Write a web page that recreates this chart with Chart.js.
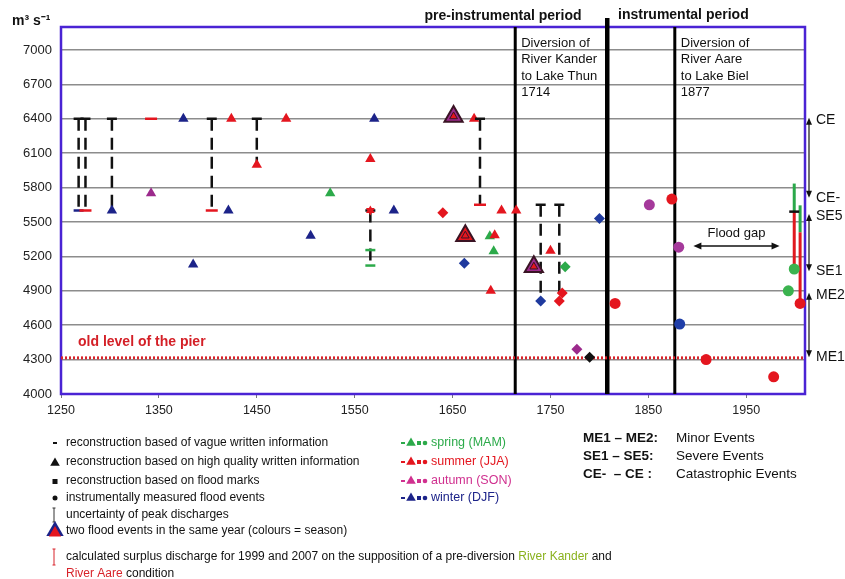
<!DOCTYPE html>
<html>
<head>
<meta charset="utf-8">
<title>Flood discharges of the River Aare</title>
<script src="https://cdn.jsdelivr.net/npm/chart.js@4.4.0/dist/chart.umd.min.js"></script>
<style>
    html, body { margin: 0; padding: 0; background: #fff; }
    #wrap { width: 845px; height: 579px; }
</style>
</head>
<body>
<div id="wrap"><canvas id="floodChart" width="845" height="579"></canvas></div>
<script>
// Axis ticks
const xTicks = [1250, 1350, 1450, 1550, 1650, 1750, 1850, 1950];
const yTicks = [4000, 4300, 4600, 4900, 5200, 5500, 5800, 6100, 6400, 6700, 7000];

// Dashes - reconstruction based on vague written information
const vagueBlackYears  = [1268, 1275, 1302, 1404, 1450, 1566, 1678, 1740, 1759, 1999];
const vagueBlackValues = [6400, 6400, 6400, 6400, 6400, 5600, 6400, 5650, 5650, 5590];
const vagueRedYears    = [1275, 1342, 1404, 1678];
const vagueRedValues   = [5600, 6400, 5600, 5650];
const vagueBlueYears   = [1268];
const vagueBlueValues  = [5600];
const vagueGreenYears  = [1566, 1566];
const vagueGreenValues = [5255, 5120];

// Triangles - reconstruction based on high quality written information
const triRedYears     = [1424, 1450, 1480, 1566, 1672, 1700, 1715, 1693, 1689, 1750];
const triRedValues    = [6400, 6000, 6400, 6050, 6400, 5600, 5600, 5385, 4900, 5250];
const triBlueYears    = [1302, 1375, 1385, 1421, 1505, 1570, 1590];
const triBlueValues   = [5600, 6400, 5130, 5600, 5380, 6400, 5600];
const triGreenYears   = [1525, 1688, 1692];
const triGreenValues  = [5750, 5375, 5245];
const triAutumnYears  = [1342];
const triAutumnValues = [5750];
const starYears  = [1566];
const starValues = [5600];

// Two flood events in the same year (first / second season)
const twoEventYears  = [1651, 1663, 1733];
const twoEventValues = [6420, 5380, 5110];
const twoEventFirst  = ['autumn', 'summer', 'autumn'];
const twoEventSecond = ['summer', 'summer', 'summer'];

// Diamonds - reconstruction based on flood marks
const diaRedYears     = [1640, 1759, 1762];
const diaRedValues    = [5580, 4810, 4880];
const diaBlueYears    = [1662, 1740, 1800];
const diaBlueValues   = [5140, 4810, 5530];
const diaGreenYears   = [1765];
const diaGreenValues  = [5110];
const diaAutumnYears  = [1777];
const diaAutumnValues = [4390];
const diaBlackYears   = [1790];
const diaBlackValues  = [4320];

// Circles - instrumentally measured flood events
const circRedYears     = [1816, 1874, 1909, 1978, 2005];
const circRedValues    = [4790, 5700, 4300, 4150, 4790];
const circAutumnYears  = [1851, 1881];
const circAutumnValues = [5650, 5280];
const circBlueYears    = [1882];
const circBlueValues   = [4610];
const circGreenYears   = [1993, 1999];
const circGreenValues  = [4900, 5090];

// Uncertainty of peak discharges
const uncYears = [1268, 1275, 1302, 1404, 1450, 1566, 1678, 1740, 1759];
const uncHigh  = [6400, 6400, 6400, 6400, 6400, 5600, 6400, 5650, 5650];
const uncLow   = [5600, 5600, 5600, 5600, 6000, 5120, 5650, 4810, 4810];

// Calculated surplus discharge (pre-diversion Aare / Kander)
const surplusYears  = [1999, 2005];
const surplusBase   = [5090, 4790];
const surplusAare   = [5590, 5410];
const surplusKander = [5835, 5645];

// Periods, classes, reference levels
const periodYears  = [1714, 1808, 1877];
const classLabels  = ['CE', 'CE-', 'SE5', 'SE1', 'ME2', 'ME1'];
const classValues  = [6400, 5720, 5560, 5080, 4875, 4330];
const pierLevel    = 4315;
const floodGapYears = [1896, 1984];
const floodGapValue = 5290;

const colours = {
    spring: '#2caa4a',
    summer: '#e4161f',
    autumn: '#9c2a8c',
    winter: '#1c2389',
    black: '#111111'
};
const FONT = "'Liberation Sans', Arial, sans-serif";

function points(xs, ys) {
    return xs.map((x, i) => ({ x: x, y: ys[i] }));
}

function markers(xs, ys, style, colour, radius, extra) {
    return Object.assign({
        data: points(xs, ys),
        pointStyle: style,
        pointRadius: radius,
        pointHoverRadius: radius,
        pointBackgroundColor: colour,
        pointBorderColor: colour,
        pointBorderWidth: style === 'line' ? 2.5 : 0,
        order: 1,
        clip: false
    }, extra || {});
}

function bar(x, y0, y1, colour, width, dash, order) {
    return {
        data: [{ x: x, y: y0 }, { x: x, y: y1 }],
        showLine: true,
        borderColor: colour,
        borderWidth: width,
        borderDash: dash,
        pointRadius: 0,
        order: order,
        clip: false
    };
}

const datasets = [];

// uncertainty bars (dashed)
uncYears.forEach((yr, i) => {
    datasets.push(bar(yr, uncHigh[i], uncLow[i], '#111', 2.5, [12, 7], 5));
});

// surplus discharge bars
surplusYears.forEach((yr, i) => {
    datasets.push(bar(yr, surplusBase[i], surplusAare[i], '#e0191f', 3, [], 4));
    datasets.push(bar(yr, surplusAare[i], surplusKander[i], '#2aa84a', 3, [], 4));
});

// pier level
datasets.push({
    data: [{ x: 1250, y: pierLevel }, { x: 2010, y: pierLevel }],
    showLine: true,
    borderColor: '#d8232a',
    borderWidth: 3,
    borderDash: [2, 2],
    pointRadius: 0,
    order: 6
});

datasets.push(markers(vagueBlackYears, vagueBlackValues, 'line', colours.black, 5));
datasets.push(markers(vagueRedYears, vagueRedValues, 'line', colours.summer, 6));
datasets.push(markers(vagueBlueYears, vagueBlueValues, 'line', colours.winter, 5));
datasets.push(markers(vagueGreenYears, vagueGreenValues, 'line', colours.spring, 5));

datasets.push(markers(triRedYears, triRedValues, 'triangle', colours.summer, 6));
datasets.push(markers(triBlueYears, triBlueValues, 'triangle', colours.winter, 6));
datasets.push(markers(triGreenYears, triGreenValues, 'triangle', colours.spring, 6));
datasets.push(markers(triAutumnYears, triAutumnValues, 'triangle', colours.autumn, 6));
datasets.push(markers(starYears, starValues, 'triangle', colours.summer, 5, { order: 0 }));
datasets.push(markers(starYears, starValues, 'triangle', colours.summer, 5, { order: 0, pointRotation: 180 }));

// two flood events: outer triangle = first season, inner = second season
datasets.push(markers(twoEventYears, twoEventValues, 'triangle', twoEventFirst.map(s => colours[s]), 10.5, {
    pointBorderColor: '#3a1424',
    pointBorderWidth: 2,
    order: 1
}));
datasets.push(markers(twoEventYears, twoEventValues, 'triangle', twoEventSecond.map(s => colours[s]), 4.5, {
    pointBorderColor: '#3a1424',
    pointBorderWidth: 1,
    order: 0
}));

datasets.push(markers(diaRedYears, diaRedValues, 'rectRot', colours.summer, 5.5));
datasets.push(markers(diaBlueYears, diaBlueValues, 'rectRot', '#1f3a9e', 5.5));
datasets.push(markers(diaGreenYears, diaGreenValues, 'rectRot', colours.spring, 5.5));
datasets.push(markers(diaAutumnYears, diaAutumnValues, 'rectRot', colours.autumn, 5.5));
datasets.push(markers(diaBlackYears, diaBlackValues, 'rectRot', colours.black, 5.5));

datasets.push(markers(circRedYears, circRedValues, 'circle', colours.summer, 5.5));
datasets.push(markers(circAutumnYears, circAutumnValues, 'circle', '#a5399b', 5.5));
datasets.push(markers(circBlueYears, circBlueValues, 'circle', '#1f3ea8', 5.5));
datasets.push(markers(circGreenYears, circGreenValues, 'circle', '#3bb34f', 5.5));

// Small drawing helpers for the legend and annotations
function triangle(ctx, x, y, r, fill) {
    ctx.beginPath();
    ctx.moveTo(x, y - r);
    ctx.lineTo(x + r * 0.87, y + r * 0.5);
    ctx.lineTo(x - r * 0.87, y + r * 0.5);
    ctx.closePath();
    ctx.fillStyle = fill;
    ctx.fill();
}

function arrowHead(ctx, x, y, dir) {
    // dir: 'up', 'down', 'left', 'right'
    ctx.beginPath();
    if (dir === 'up') { ctx.moveTo(x, y); ctx.lineTo(x - 3, y + 7); ctx.lineTo(x + 3, y + 7); }
    if (dir === 'down') { ctx.moveTo(x, y); ctx.lineTo(x - 3, y - 7); ctx.lineTo(x + 3, y - 7); }
    if (dir === 'left') { ctx.moveTo(x, y); ctx.lineTo(x + 8, y - 3.5); ctx.lineTo(x + 8, y + 3.5); }
    if (dir === 'right') { ctx.moveTo(x, y); ctx.lineTo(x - 8, y - 3.5); ctx.lineTo(x - 8, y + 3.5); }
    ctx.closePath();
    ctx.fill();
}

function seasonSymbols(ctx, x, y, colour) {
    ctx.fillStyle = colour;
    ctx.fillRect(x, y - 1, 4, 2);
    triangle(ctx, x + 10, y, 5.5, colour);
    ctx.fillStyle = colour;
    ctx.fillRect(x + 16, y - 2, 4, 4);
    ctx.beginPath();
    ctx.arc(x + 24, y, 2.3, 0, Math.PI * 2);
    ctx.fill();
}

function iBar(ctx, x, y0, y1, colour) {
    ctx.strokeStyle = colour;
    ctx.lineWidth = 1;
    ctx.beginPath();
    ctx.moveTo(x, y0); ctx.lineTo(x, y1);
    ctx.moveTo(x - 1.5, y0); ctx.lineTo(x + 1.5, y0);
    ctx.moveTo(x - 1.5, y1); ctx.lineTo(x + 1.5, y1);
    ctx.stroke();
}

const annotations = {
    id: 'annotations',
    beforeDatasetsDraw(chart) {
        const { ctx, chartArea: a, scales: { x } } = chart;
        ctx.save();
        // plot frame
        ctx.strokeStyle = '#4a23d4';
        ctx.lineWidth = 2.5;
        ctx.strokeRect(a.left, a.top, a.right - a.left, a.bottom - a.top);

        // period boundaries
        ctx.strokeStyle = '#000';
        periodYears.forEach((yr, i) => {
            const px = x.getPixelForValue(yr);
            ctx.lineWidth = i === 1 ? 4.5 : 3;
            ctx.beginPath();
            ctx.moveTo(px, i === 1 ? 18 : a.top);
            ctx.lineTo(px, a.bottom);
            ctx.stroke();
        });
        ctx.restore();
    },
    afterDraw(chart) {
        const { ctx, chartArea: a, scales: { x, y } } = chart;
        ctx.save();
        ctx.textBaseline = 'middle';

        // axis unit
        ctx.fillStyle = '#111';
        ctx.font = 'bold 14px ' + FONT;
        ctx.textAlign = 'left';
        ctx.fillText('m³ s⁻¹', 12, 21);

        // period titles
        ctx.font = 'bold 14px ' + FONT;
        ctx.textAlign = 'center';
        ctx.fillText('pre-instrumental period', 503, 16);
        ctx.textAlign = 'left';
        ctx.fillText('instrumental period', 618, 15);

        // diversion notes
        ctx.font = '13px ' + FONT;
        const notes = [
            ['Diversion of', 'River Kander', 'to Lake Thun', '1714'],
            ['Diversion of', 'River Aare', 'to Lake Biel', '1877']
        ];
        [periodYears[0], periodYears[2]].forEach((yr, k) => {
            const px = x.getPixelForValue(yr) + 6;
            notes[k].forEach((line, j) => ctx.fillText(line, px, 43 + j * 16.5));
        });

        // pier label
        ctx.fillStyle = '#d42027';
        ctx.font = 'bold 14px ' + FONT;
        ctx.fillText('old level of the pier', 78, 342);

        // flood gap
        const gx0 = x.getPixelForValue(floodGapYears[0]);
        const gx1 = x.getPixelForValue(floodGapYears[1]);
        const gy = y.getPixelForValue(floodGapValue);
        ctx.strokeStyle = '#111';
        ctx.fillStyle = '#111';
        ctx.lineWidth = 1.5;
        ctx.beginPath();
        ctx.moveTo(gx0 + 4, gy);
        ctx.lineTo(gx1 - 4, gy);
        ctx.stroke();
        arrowHead(ctx, gx0, gy, 'left');
        arrowHead(ctx, gx1, gy, 'right');
        ctx.font = '13px ' + FONT;
        ctx.textAlign = 'center';
        ctx.fillText('Flood gap', (gx0 + gx1) / 2, gy - 13);

        // event classes on the right
        const ax = a.right + 4;
        ctx.lineWidth = 1.2;
        for (let k = 0; k < classValues.length; k += 2) {
            const top = y.getPixelForValue(classValues[k]);
            const bot = y.getPixelForValue(classValues[k + 1]);
            ctx.beginPath();
            ctx.moveTo(ax, top + 3);
            ctx.lineTo(ax, bot - 3);
            ctx.stroke();
            arrowHead(ctx, ax, top - 1, 'up');
            arrowHead(ctx, ax, bot + 1, 'down');
        }
        ctx.font = '14px ' + FONT;
        ctx.textAlign = 'left';
        classLabels.forEach((lab, i) => {
            ctx.fillText(lab, ax + 7, y.getPixelForValue(classValues[i]) + 1);
        });

        // legend - symbols
        const lx = 54, tx = 66;
        ctx.fillStyle = '#111';
        ctx.fillRect(lx - 1, 442, 4, 2);
        triangle(ctx, lx + 1, 463, 5.5, '#111');
        ctx.fillStyle = '#111';
        ctx.fillRect(lx - 1.5, 479, 5, 5);
        ctx.beginPath();
        ctx.arc(lx + 1, 498, 2.5, 0, Math.PI * 2);
        ctx.fill();
        iBar(ctx, lx, 508, 522, '#333');
        triangle(ctx, lx + 1, 531, 10, colours.winter);
        triangle(ctx, lx + 1, 533, 7, colours.summer);
        iBar(ctx, lx, 549, 565, '#d8232a');

        // legend - text
        ctx.font = '12px ' + FONT;
        ctx.fillStyle = '#111';
        ctx.textAlign = 'left';
        ctx.fillText('reconstruction based of vague written information', tx, 443);
        ctx.fillText('reconstruction based on high quality written information', tx, 462);
        ctx.fillText('reconstruction based on flood marks', tx, 481);
        ctx.fillText('instrumentally measured flood events', tx, 498);
        ctx.fillText('uncertainty of peak discharges', tx, 515);
        ctx.fillText('two flood events in the same year (colours = season)', tx, 531);
        let cx = tx;
        const part1 = 'calculated surplus discharge for 1999 and 2007 on the supposition of a pre-diversion ';
        ctx.fillText(part1, cx, 557);
        cx += ctx.measureText(part1).width;
        ctx.fillStyle = '#8ab21e';
        ctx.fillText('River Kander', cx, 557);
        cx += ctx.measureText('River Kander').width;
        ctx.fillStyle = '#111';
        ctx.fillText(' and', cx, 557);
        ctx.fillStyle = '#d8232a';
        ctx.fillText('River Aare', tx, 574);
        ctx.fillStyle = '#111';
        ctx.fillText(' condition', tx + ctx.measureText('River Aare').width, 574);

        // season legend
        const seasons = [
            ['spring (MAM)', colours.spring, 443],
            ['summer (JJA)', colours.summer, 462],
            ['autumn (SON)', '#d0308f', 481],
            ['winter (DJF)', colours.winter, 498]
        ];
        ctx.font = '12.5px ' + FONT;
        seasons.forEach(s => {
            seasonSymbols(ctx, 401, s[2], s[1]);
            ctx.fillStyle = s[1];
            ctx.fillText(s[0], 431, s[2]);
        });

        // class legend
        const classes = [
            ['ME1 – ME2:', 'Minor Events', 438],
            ['SE1 – SE5:', 'Severe Events', 456],
            ['CE-  – CE :', 'Catastrophic Events', 474]
        ];
        ctx.fillStyle = '#111';
        classes.forEach(c => {
            ctx.font = 'bold 13.5px ' + FONT;
            ctx.fillText(c[0], 583, c[2]);
            ctx.font = '13.5px ' + FONT;
            ctx.fillText(c[1], 676, c[2]);
        });

        ctx.restore();
    }
};

new Chart(document.getElementById('floodChart'), {
    type: 'scatter',
    data: { datasets: datasets },
    options: {
        responsive: false,
        animation: false,
        devicePixelRatio: 1,
        layout: { padding: { top: 27, right: 40, left: 0, bottom: 0 } },
        plugins: {
            legend: { display: false },
            tooltip: { enabled: false }
        },
        scales: {
            x: {
                type: 'linear',
                min: 1250,
                max: 2010,
                afterBuildTicks: s => { s.ticks = xTicks.map(v => ({ value: v })); },
                afterFit: s => { s.height = 185; },
                grid: { drawOnChartArea: false, drawTicks: true, tickLength: 4, color: '#777' },
                border: { display: false },
                ticks: {
                    color: '#222',
                    padding: 5,
                    maxRotation: 0,
                    font: { family: FONT, size: 12.5 },
                    callback: v => String(v)
                }
            },
            y: {
                type: 'linear',
                min: 4000,
                max: 7200,
                afterBuildTicks: s => { s.ticks = yTicks.map(v => ({ value: v })); },
                afterFit: s => { s.width = 61; },
                grid: { color: '#8c8c8c', lineWidth: 1.5, drawTicks: false },
                border: { display: false },
                ticks: {
                    color: '#222',
                    padding: 9,
                    font: { family: FONT, size: 13 },
                    callback: v => String(v)
                }
            }
        }
    },
    plugins: [annotations]
});
</script>
</body>
</html>
